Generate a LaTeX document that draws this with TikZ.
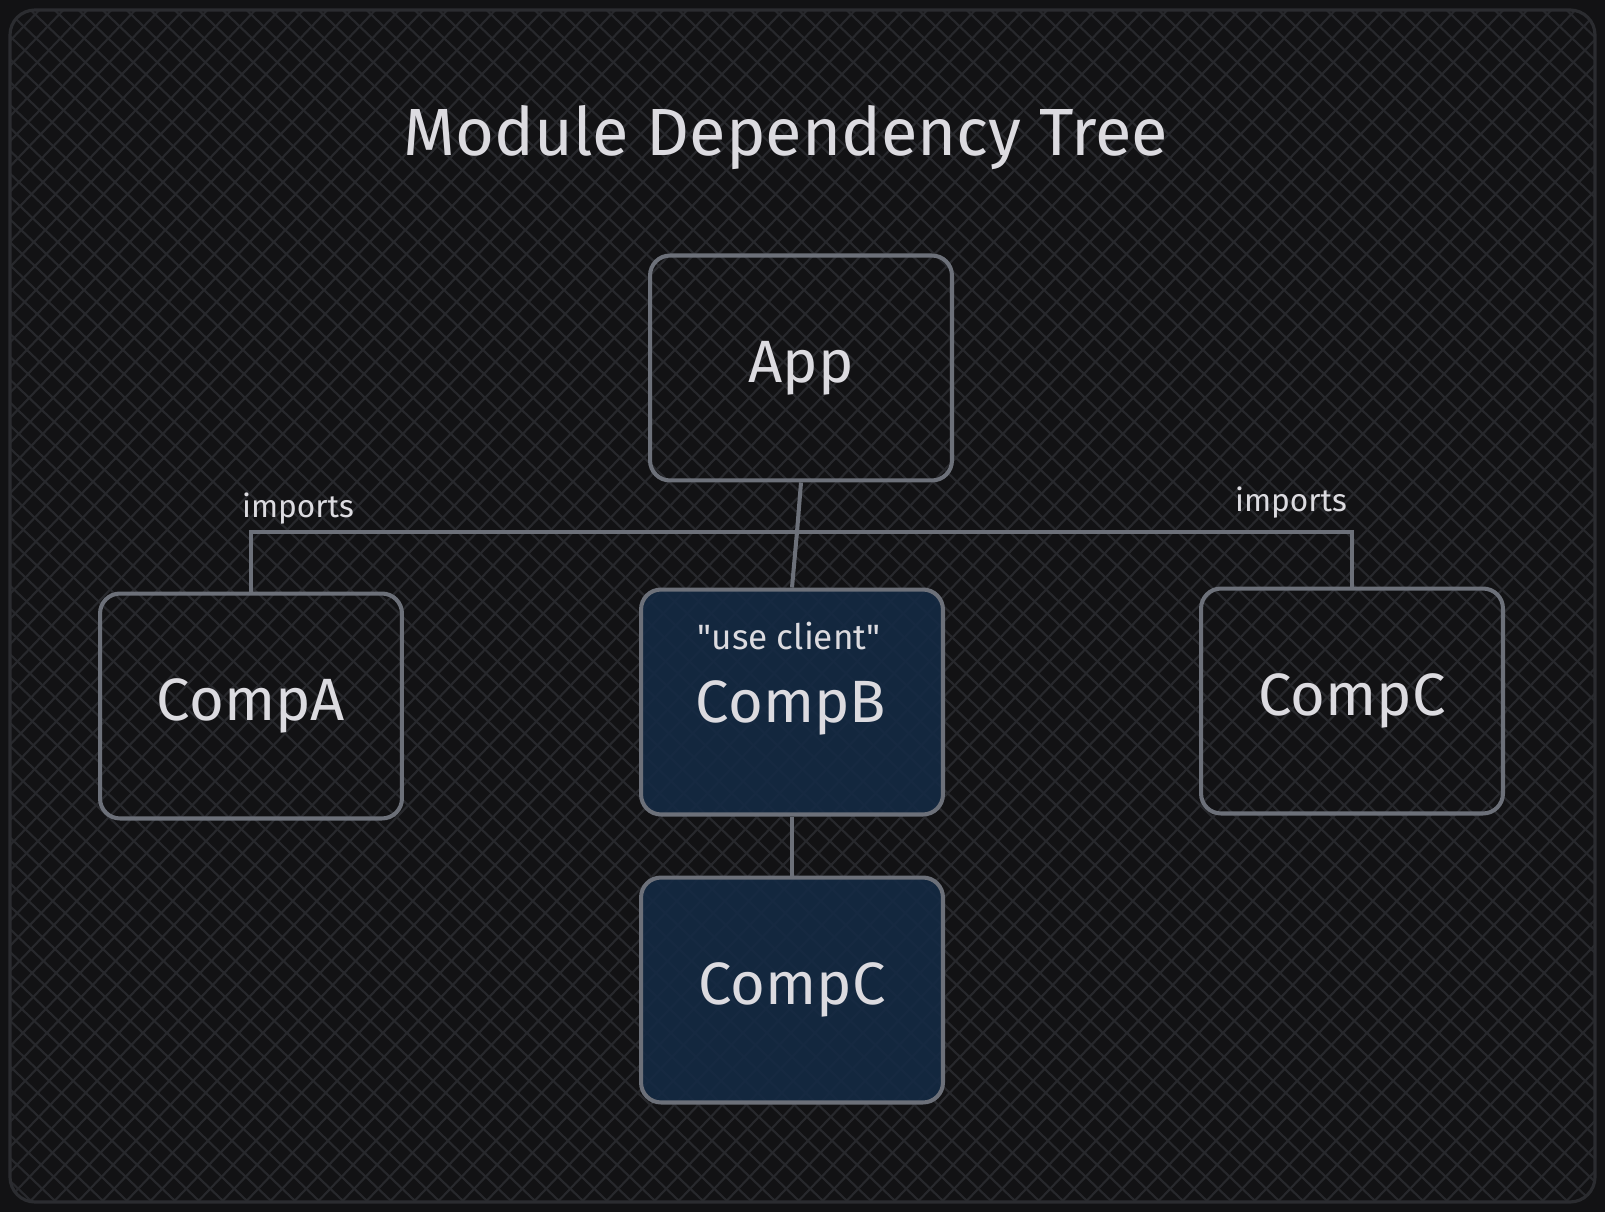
\documentclass[tikz,border=0pt]{standalone}
\usepackage{fontspec}
\setmainfont{Fira Sans}
\usetikzlibrary{positioning}

\definecolor{pagebg}{HTML}{121214}
\definecolor{framegrey}{HTML}{2B2C30}
\definecolor{hatchgrey}{HTML}{27282C}
\definecolor{boxgrey}{HTML}{6C7079}
\definecolor{inkwhite}{HTML}{DCDBE0}
\definecolor{clientblue}{HTML}{142A44}

\tikzset{
	box/.style={draw=boxgrey, line width=2.3pt, rounded corners=0.4cm,
		minimum width=6.04cm, minimum height=4.5cm, text=inkwhite,
		font=\fontsize{34}{40}\selectfont},
	clientbox/.style={box, fill=clientblue, fill opacity=0.88, text opacity=1},
	wire/.style={draw=boxgrey, line width=2.3pt},
	hatch/.style={draw=hatchgrey, line width=1.2pt},
	tag/.style={text=inkwhite, inner sep=0pt, font=\fontsize{18}{22}\selectfont},
}

\begin{document}
\begin{tikzpicture}[x=0.02cm, y=-0.02cm]
	\useasboundingbox (0,0) rectangle (1605,1212);
	\fill[color=pagebg] (0,0) rectangle (1605,1212);

	% cross hatching of the frame
	\begin{scope}
		\clip[rounded corners=0.5cm] (10,10) rectangle (1595,1202);
		\foreach \i in {-1300,-1276,...,1620}
			\draw[hatch] (\i,0) -- ++(1300,1240);
		\foreach \i in {-1300,-1276,...,1620}
			\draw[hatch] (\i,1212) -- ++(1260,-1320);
	\end{scope}
	\draw[color=framegrey, line width=1.8pt, rounded corners=0.5cm] (10,10) rectangle (1595,1202);

	\node[text=inkwhite, font=\fontsize{38}{44}\selectfont] (title) at (786,138) {Module Dependency Tree};

	% boxes
	\node[box] (app) at (801,368) {App};
	\node[box] (compA) at (251,706) {CompA};
	\node[clientbox] (compB) at (792,702) {};
	\node[box] (compC) at (1352,701) {CompC};
	\node[clientbox] (compCb) at (792,990) {CompC};
	\node[tag, anchor=base, font=\fontsize{20}{24}\selectfont] (useclient) at (789,649) {\textquotedbl use client\textquotedbl};
	\node[text=inkwhite, anchor=base, font=\fontsize{34}{40}\selectfont] (compBlabel) at (791,722) {CompB};

	% connectors
	\coordinate (bus) at (797,532);
	\draw[wire] (app.south) -- (bus) -- (compB.north);
	\draw[wire] (bus) -| (compA.north);
	\draw[wire] (bus) -| (compC.north);
	\draw[wire] (compB.south) -- (compCb.north);

	\node[tag] (importsA) at (298,509) {imports};
	\node[tag] (importsC) at (1291,503) {imports};
\end{tikzpicture}
\end{document}
